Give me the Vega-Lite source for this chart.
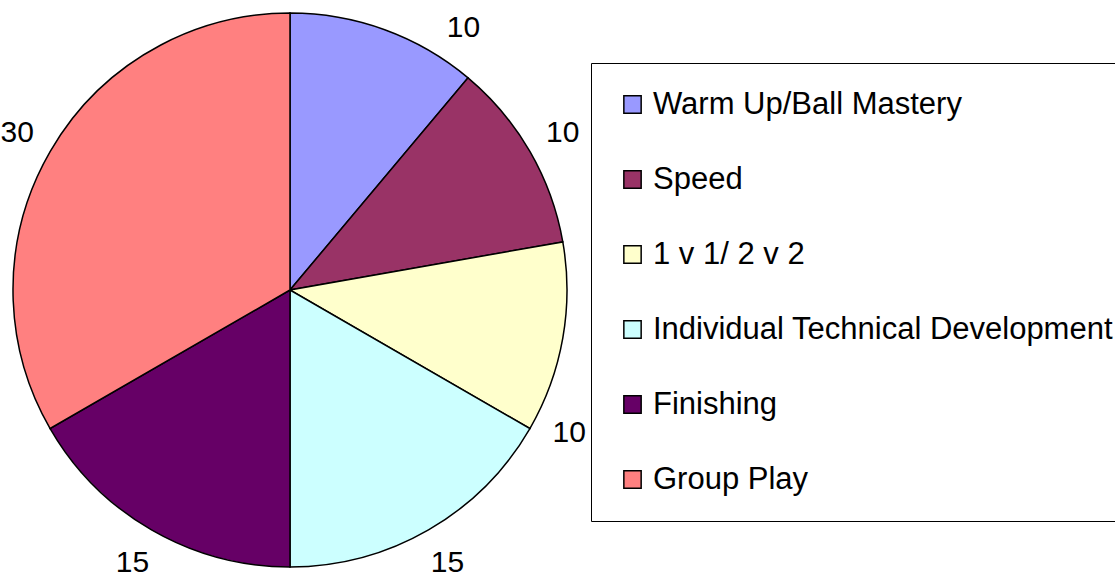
{
  "$schema": "https://vega.github.io/schema/vega-lite/v6.json",
  "autosize": {"type": "none"},
  "width": 580,
  "height": 580,
  "padding": {"left": 0, "top": 0, "right": 535, "bottom": 0},
  "background": "white",
  "config": {"view": {"stroke": null}, "font": "Liberation Sans"},
  "data": {
    "values": [
      {"category": "Warm Up/Ball Mastery", "value": 10, "order": 1},
      {"category": "Speed", "value": 10, "order": 2},
      {"category": "1 v 1/ 2 v 2", "value": 10, "order": 3},
      {"category": "Individual Technical Development", "value": 15, "order": 4},
      {"category": "Finishing", "value": 15, "order": 5},
      {"category": "Group Play", "value": 30, "order": 6}
    ]
  },
  "encoding": {
    "theta": {"field": "value", "type": "quantitative", "stack": true},
    "order": {"field": "order", "type": "quantitative"}
  },
  "layer": [
    {
      "mark": {"type": "arc", "outerRadius": 277, "stroke": "black", "strokeWidth": 1.5},
      "encoding": {
        "color": {
          "field": "category",
          "type": "nominal",
          "sort": ["Warm Up/Ball Mastery", "Speed", "1 v 1/ 2 v 2", "Individual Technical Development", "Finishing", "Group Play"],
          "scale": {
            "domain": ["Warm Up/Ball Mastery", "Speed", "1 v 1/ 2 v 2", "Individual Technical Development", "Finishing", "Group Play"],
            "range": ["#9999FF", "#993366", "#FFFFCC", "#CCFFFF", "#660066", "#FF8080"]
          },
          "legend": {
            "title": null,
            "orient": "none",
            "legendX": 591,
            "legendY": 63,
            "padding": 26,
            "strokeColor": "black",
            "fillColor": "white",
            "symbolType": "square",
            "symbolSize": 300,
            "symbolStrokeColor": "black",
            "symbolStrokeWidth": 1.5,
            "symbolOpacity": 1,
            "labelFontSize": 31,
            "labelFont": "Liberation Sans",
            "labelColor": "black",
            "labelOffset": 5,
            "labelLimit": 1000,
            "rowPadding": 43
          }
        }
      }
    },
    {
      "mark": {"type": "text", "radius": 315, "fontSize": 30, "font": "Liberation Sans", "color": "black"},
      "encoding": {
        "text": {"condition": {"test": "datum.order != 1 && datum.order != 3", "field": "value", "type": "quantitative"}, "value": ""}
      }
    },
    {
      "mark": {"type": "text", "radius": 314, "dx": 66, "dy": 33, "fontSize": 30, "font": "Liberation Sans", "color": "black"},
      "encoding": {
        "text": {"condition": {"test": "datum.order == 1", "field": "value", "type": "quantitative"}, "value": ""}
      }
    },
    {
      "mark": {"type": "text", "radius": 314, "dx": -30, "dy": 88, "fontSize": 30, "font": "Liberation Sans", "color": "black"},
      "encoding": {
        "text": {"condition": {"test": "datum.order == 3", "field": "value", "type": "quantitative"}, "value": ""}
      }
    }
  ]
}
